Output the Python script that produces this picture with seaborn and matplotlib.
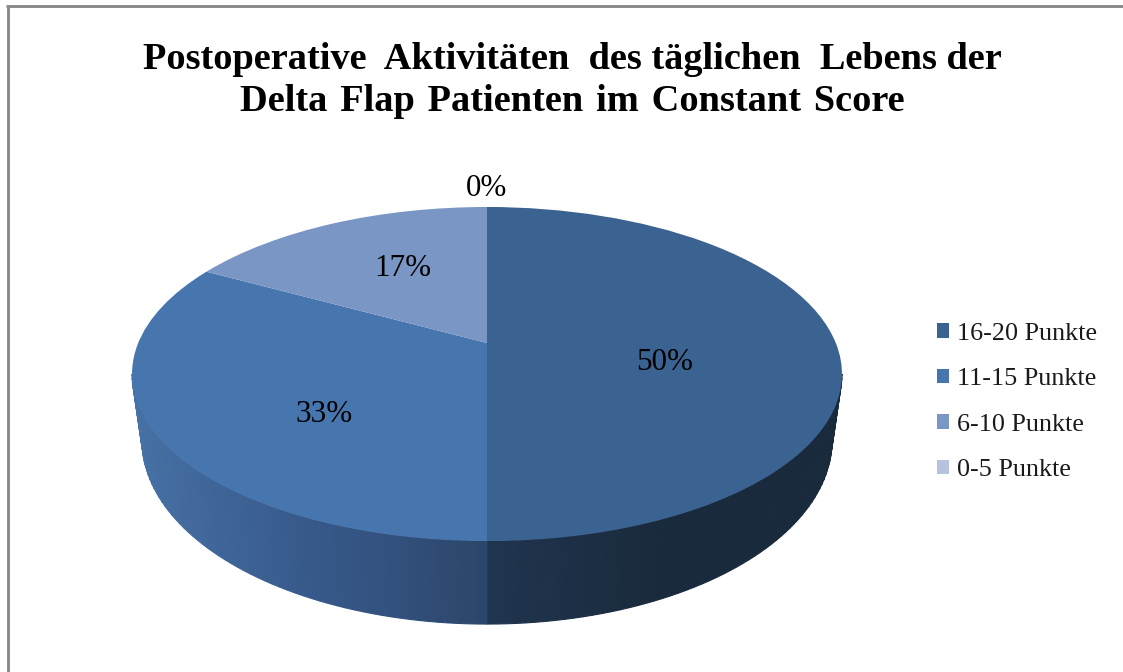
import numpy as np
import matplotlib
matplotlib.use('Agg')
import matplotlib.pyplot as plt
import seaborn as sns
from matplotlib.colors import LinearSegmentedColormap
from matplotlib.transforms import Transform

# values
title_text = ('Postoperative  Aktivitäten  des täglichen  Lebens der\n'
              'Delta \u200aFlap \u200aPatienten \u200aim \u200aConstant \u200aScore')
categories = ['16-20 Punkte', '11-15 Punkte', '6-10 Punkte', '0-5 Punkte']
shares = [50, 33, 17, 0]
pct_labels = ['50%', '33%', '17%', '0%']

# styles
slice_colors = ['#3a6391', '#4775ae', '#7a96c5', '#b5c3de']
side_colors = {0: ['#203650', '#1a2a3d', '#1a2a3d'], 1: ['#2b4468', '#37598a', '#4874a8']}
label_pos = [(665, 362), (324, 415), (403, 269), (487, 189)]


class TiltedDisc(Transform):
    # unit disc -> picture pixels, with perspective like a 3d excel pie
    input_dims = 2
    output_dims = 2
    has_inverse = False

    def transform_non_affine(self, values):
        values = np.asarray(values)
        w = 1 + 0.1856 * values[:, 1]
        px = 487 + 348.8 * values[:, 0] / w
        py = (343 - 97.6 * values[:, 1]) / w
        return np.column_stack([px, py])


def to_base(points):
    # lower rim of the disc
    return np.column_stack([487 + (points[:, 0] - 487) * 0.972,
                            440 + (points[:, 1] - 374) * 1.102])


sns.set_theme(style='white')
plt.rcParams['font.family'] = ['Liberation Serif', 'DejaVu Serif']

fig = plt.figure(figsize=(11.23, 6.72), dpi=100)
ax = fig.add_axes([0, 0, 1, 1])

wedges, _ = ax.pie(shares, colors=sns.color_palette(slice_colors), startangle=90,
                   counterclock=False, radius=1, center=(0, 0),
                   wedgeprops={'linewidth': 0, 'zorder': 5})
disc = TiltedDisc()
for w in wedges:
    w.set_transform(disc + ax.transData)

ax.set_aspect('auto')
ax.set_xlim(0, 1123)
ax.set_ylim(672, 0)
ax.axis('off')

# side wall, only the front half of the slices is visible
for i, w in enumerate(wedges):
    if i not in side_colors:
        continue
    cmap = LinearSegmentedColormap.from_list('side', side_colors[i])
    start = max(w.theta1 + 360, 190.7)
    end = min(w.theta2 + 360, 349.3)
    steps = np.linspace(start, end, 60)
    for a, b in zip(steps[:-1], steps[1:]):
        t = np.radians(np.linspace(a, b, 4))
        rim = disc.transform_non_affine(np.column_stack([np.cos(t), np.sin(t)]))
        poly = np.vstack([rim, to_base(rim)[::-1]])
        pos = abs(np.cos(np.radians((a + b) / 2))) ** 0.8
        col = cmap(pos)
        ax.fill(poly[:, 0], poly[:, 1], facecolor=col, edgecolor=col, linewidth=0.8, zorder=2)

for txt, (x, y) in zip(pct_labels, label_pos):
    ax.text(x, y, txt, fontsize=22.4, color='black', ha='center', va='center', zorder=6)

ax.text(572, 80.5, title_text, fontsize=27.6, fontweight='bold', color='black',
        ha='center', va='center', linespacing=1.29)

leg = ax.legend(wedges, categories, loc='center left', bbox_to_anchor=(937, 402),
                bbox_transform=ax.transData, frameon=False, fontsize=18.8,
                handlelength=0.46, handleheight=0.46, handletextpad=0.3,
                labelspacing=0.9, borderpad=0, borderaxespad=0)
for t in leg.get_texts():
    t.set_color('#1a1a1a')

# outer frame, only top and left are in the picture
ax.plot([7.5, 7.5], [5.5, 672], color='#8a8a8a', lw=2.1, clip_on=False, solid_capstyle='butt')
ax.plot([6, 1123], [5.5, 5.5], color='#8a8a8a', lw=2.1, clip_on=False, solid_capstyle='butt')

fig.savefig('out.png', dpi=100, facecolor='white')
